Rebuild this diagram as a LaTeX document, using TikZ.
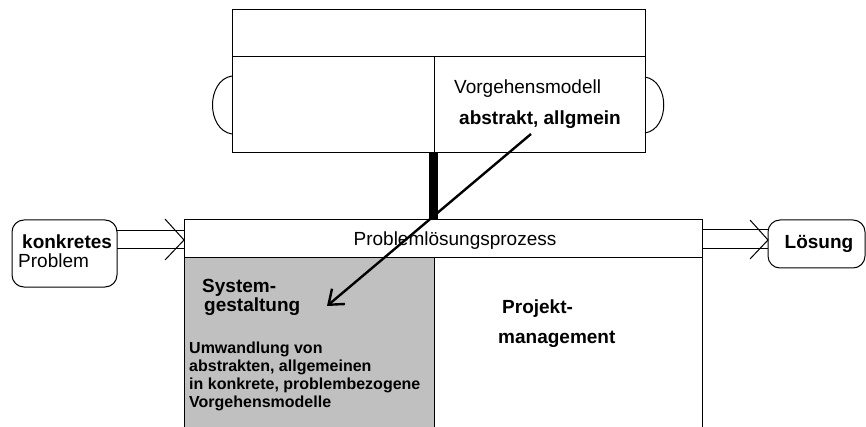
\documentclass[tikz,border=0pt]{standalone}
\usepackage{fontspec}
\setmainfont{Liberation Sans}
\usetikzlibrary{arrows.meta}
\definecolor{panelgray}{RGB}{192,192,192}
\tikzset{
  frame/.style={draw=black, line width=1pt},
  txt/.style={inner sep=0pt, font=\fontsize{19}{22}\selectfont},
  btxt/.style={inner sep=0pt, font=\fontsize{19}{22}\selectfont\bfseries},
  stxt/.style={inner sep=0pt, font=\fontsize{16}{18}\selectfont\bfseries},
  rbox/.style={draw=black, line width=1pt, rounded corners=12pt},
  flow/.style={line width=1pt},
  link/.style={line width=2.4pt, -{Straight Barb[length=13pt,width=20pt,line width=2.4pt]}}
}
\begin{document}
\begin{tikzpicture}[x=1pt,y=-1pt]
\useasboundingbox (0,0) rectangle (866,427);

% model box at the top
\draw[frame] (232,9.5) rectangle (645,153);
\draw[frame] (232,57) -- (645,57);
\draw[frame] (434,57) -- (434,153);
% side handles
\draw[frame] (232,76) .. controls (206,80) and (206,130) .. (232,134);
\draw[frame] (645,77) .. controls (670,81) and (670,129) .. (645,133);

% process box at the bottom (open below)
\fill[panelgray] (184,258) rectangle (434,427);
\draw[frame] (184,427) -- (184,220) -- (702,220) -- (702,427);
\draw[frame] (184,258) -- (702,258);
\draw[frame] (434,258) -- (434,427);

% stem joining both boxes
\fill[black] (429,153) rectangle (438,220);

% texts in the model box
\node[txt, anchor=base west] (vm) at (454,94) {Vorgehensmodell};
\node[btxt, anchor=base west] (abs) at (459,125) {abstrakt, allgmein};

% texts in the process box
\node[txt, anchor=base] (plp) at (455,246) {Problemlösungsprozess};
\node[btxt, anchor=base west] (sys1) at (202,292) {System-};
\node[btxt, anchor=base west] (sys2) at (204,311) {gestaltung};
\node[stxt, anchor=base west] (u1) at (189,353) {Umwandlung von};
\node[stxt, anchor=base west] (u2) at (189,371) {abstrakten, allgemeinen};
\node[stxt, anchor=base west] (u3) at (189,389) {in konkrete, problembezogene};
\node[stxt, anchor=base west] (u4) at (189,407) {Vorgehensmodelle};
\node[btxt, anchor=base west] (pm1) at (502,313) {Projekt-};
\node[btxt, anchor=base west] (pm2) at (498,343) {management};

% input and output
\draw[rbox] (12,220) rectangle (117,287);
\node[btxt, anchor=base west] (kon) at (22,249) {konkretes};
\node[txt, anchor=base west] (prob) at (18,268) {Problem};
\draw[rbox] (768,220) rectangle (865,268);
\node[btxt, anchor=base] (loe) at (819,249) {Lösung};

% double-lined flow arrows
\coordinate (inA) at (117,231);
\coordinate (inB) at (117,249);
\coordinate (inTip) at (184,240);
\draw[flow] (inA) -- (184,231);
\draw[flow] (inB) -- (184,249);
\draw[flow] (165,219) -- (inTip) -- (165,260);
\coordinate (outA) at (702,230);
\coordinate (outB) at (702,249);
\coordinate (outTip) at (768,240);
\draw[flow] (outA) -- (768,230);
\draw[flow] (outB) -- (768,249);
\draw[flow] (750,220) -- (outTip) -- (750,259);

% transfer arrow from the abstract model into system design
\coordinate (from) at (531,134);
\coordinate (to) at (327,306);
\draw[link] (from) -- (to);
\end{tikzpicture}
\end{document}
